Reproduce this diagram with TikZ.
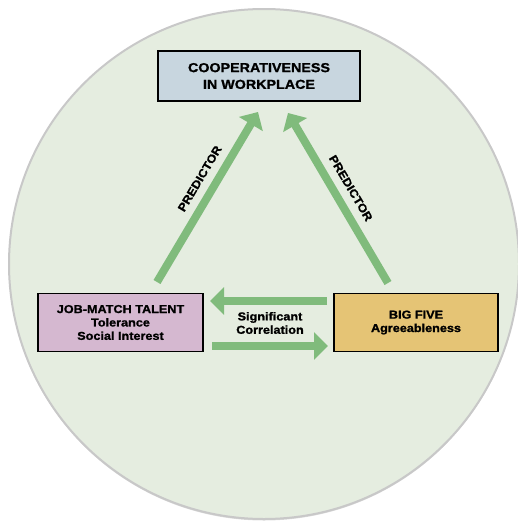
\documentclass[tikz,border=0pt]{standalone}
\usepackage{fontspec}
\setmainfont{Liberation Sans}[FakeStretch=1.1,BoldFeatures={FakeBold=1.2}]
\usetikzlibrary{arrows.meta,shadows}

\definecolor{circlefill}{RGB}{229,237,224}
\definecolor{circleedge}{RGB}{200,200,200}
\definecolor{coopfill}{RGB}{200,214,223}
\definecolor{jobfill}{RGB}{213,184,208}
\definecolor{bigfill}{RGB}{229,196,117}
\definecolor{arrowgreen}{RGB}{128,187,124}

\tikzset{
  box/.style={draw=black,line width=1.8pt,align=center,inner sep=0pt,
    font=\bfseries\fontsize{11.5}{13.4}\selectfont},
  greenarrow/.style={draw=arrowgreen,line width=8pt,-{Triangle[length=14pt,width=27pt]}},
  arrowlabel/.style={align=center,inner sep=2pt,font=\bfseries\fontsize{11.5}{13.4}\selectfont}
}

\begin{document}
\begin{tikzpicture}[x=1pt,y=-1pt]
  \useasboundingbox (0,0) rectangle (518,522);
  \path[fill=circlefill,draw=circleedge,line width=2pt,
    drop shadow={shadow xshift=0pt,shadow yshift=-1.5pt,fill=black!40,opacity=0.35}]
    (264,264) circle (255pt);

  \node[box,fill=coopfill,minimum width=202pt,minimum height=50pt,
    font=\bfseries\fontsize{13}{16.7}\selectfont] (coop) at (259,76) {COOPERATIVENESS\\IN WORKPLACE};
  \node[box,fill=jobfill,minimum width=165pt,minimum height=58pt] (job) at (120.5,322.5)
    {JOB-MATCH TALENT\\Tolerance\\Social Interest};
  \node[box,fill=bigfill,minimum width=164pt,minimum height=58pt] (big) at (416,322.5)
    {BIG FIVE\\Agreeableness};

  \coordinate (jobtail) at (157,282);
  \coordinate (cooptipL) at (258,112);
  \coordinate (bigtail) at (388,283);
  \coordinate (cooptipR) at (288,113);
  \coordinate (bigout) at (327,301);
  \coordinate (jobin) at (210,301);
  \coordinate (jobout) at (212,346);
  \coordinate (bigin) at (328,346);

  \draw[greenarrow] (jobtail) -- node[arrowlabel,sloped,above=6pt,pos=0.56] (predL) {PREDICTOR} (cooptipL);
  \draw[greenarrow] (bigtail) -- node[arrowlabel,sloped,above=6pt,pos=0.51] (predR) {PREDICTOR} (cooptipR);
  \draw[greenarrow] (bigout) -- (jobin);
  \draw[greenarrow] (jobout) -- (bigin);

  \node[arrowlabel] (corr) at (270,323) {Significant\\Correlation};
\end{tikzpicture}
\end{document}
